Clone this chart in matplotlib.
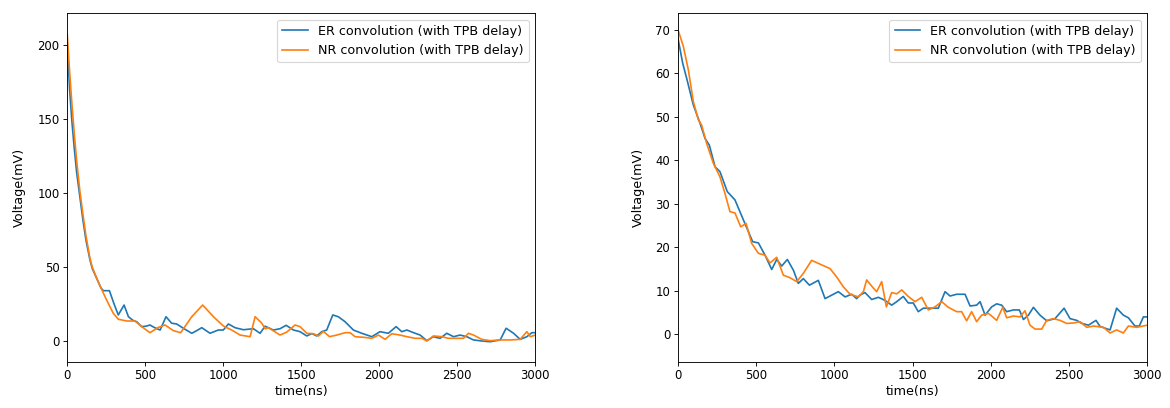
import numpy as np
import matplotlib
matplotlib.use('Agg')
import matplotlib.pyplot as plt

# Left panel - ER convolution (with TPB delay)
t_er_left = [0, 15, 30, 45, 60, 80, 100, 120, 145, 160, 190, 215, 231, 270, 300, 327, 364, 392, 420,
             445, 477, 505, 530, 560, 595, 633, 669, 701, 744, 798, 830, 862, 915, 968, 1000, 1033,
             1075, 1129, 1193, 1236, 1268, 1321, 1364, 1403, 1450, 1492, 1535, 1568, 1599, 1632,
             1663, 1702, 1737, 1781, 1834, 1888, 1952, 2005, 2058, 2108, 2144, 2177, 2220, 2262,
             2305, 2347, 2390, 2433, 2476, 2518, 2561, 2604, 2657, 2711, 2775, 2813, 2861, 2903,
             2946, 2978, 3000]
v_er_left = [200, 170, 148, 130, 114, 98, 82, 68, 55, 49, 42, 36, 34, 34, 25, 17.6, 24.3, 16.4, 14,
             13, 9.7, 10, 10.8, 9, 7.4, 16.4, 12, 11.5, 8.6, 5.2, 7, 9, 5.2, 7.4, 7.4, 11.5,
             9, 7.6, 8.3, 5.2, 10, 7.4, 8.3, 10.6, 7.4, 6.3, 3.4, 5, 3.4, 6.3,
             7.4, 17.6, 16.4, 13, 7.4, 5.2, 2.9, 6.3, 5.2, 9.7, 6.3, 7.4, 5.6, 4,
             0.2, 2.9, 1.8, 5.2, 2.9, 4, 2.9, 0.7, 0, -0.5, 0.7, 8.6, 5.2, 1.1,
             2.9, 5.6, 5.6]

# Left panel - NR convolution (with TPB delay)
t_nr_left = [0, 15, 30, 45, 60, 80, 100, 120, 145, 160, 190, 220, 252, 295, 327, 381, 434, 477, 530,
             584, 627, 680, 727, 798, 868, 937, 1001, 1054, 1108, 1172, 1204, 1247, 1268, 1289,
             1364, 1407, 1460, 1492, 1535, 1578, 1610, 1642, 1681, 1727, 1781, 1813, 1845, 1899,
             1952, 1995, 2037, 2080, 2133, 2177, 2230, 2273, 2305, 2347, 2401, 2444, 2487, 2540,
             2572, 2604, 2657, 2711, 2775, 2839, 2903, 2946, 2968, 3000]
v_nr_left = [207, 182, 160, 140, 122, 102, 86, 71, 56, 50, 42, 35, 27.7, 18.7, 14.7, 13.5, 13.5, 9.7, 5.6,
             9.2, 10.8, 7, 5.6, 16.4, 24.3, 16.4, 10.1, 7.4, 4, 2.9, 16.4, 12, 8.3, 9,
             4, 6, 10.8, 9.7, 5.2, 4.9, 3.4, 6.5, 2.9, 4, 5.6, 5.6, 2.9, 2.5,
             1.8, 4, 1.1, 4.9, 4, 2.9, 1.8, 1.8, 0, 3.4, 2.9, 1.8, 1.8, 1.8,
             5.2, 4, 1.1, 0.2, 0.7, 0.7, 1.1, 6.3, 2.9, 4]

# Right panel - ER convolution (with TPB delay)
t_er_right = [0, 30, 55, 98, 141, 173, 200, 237, 268, 315, 364, 418, 477, 514, 556, 599, 631, 663,
              699, 738, 769, 801, 840, 897, 940, 993, 1025, 1068, 1110, 1142, 1163, 1195, 1238,
              1281, 1323, 1366, 1398, 1440, 1472, 1504, 1536, 1568, 1611, 1664, 1707, 1739, 1781,
              1835, 1867, 1909, 1931, 1963, 2005, 2037, 2069, 2101, 2144, 2182, 2208, 2240, 2272,
              2314, 2357, 2410, 2468, 2506, 2549, 2581, 2624, 2672, 2698, 2762, 2804, 2847, 2879,
              2921, 2949, 2975, 3000]
v_er_right = [68, 62.3, 58.9, 52.7, 48.5, 45, 43.5, 38.5, 37.4, 32.8, 30.9, 26.3, 21.3, 21, 18.2, 14.9,
              17.2, 15.7, 17.2, 14.7, 11.7, 12.8, 11.3, 12.4, 8.2, 9.2, 9.8, 8.6, 9.2, 8.2, 9.0, 9.6,
              8, 8.5, 7.8, 6.7, 7.5, 8.7, 7.2, 7.2, 5.2, 6, 6, 6, 9.8, 8.8, 9.2,
              9.2, 6.5, 6.7, 7.5, 4.4, 6.3, 7, 6.7, 5.2, 5.6, 5.6, 3.4, 4.4, 6.2,
              4.4, 3.1, 3.6, 6, 3.6, 3.2, 2.5, 2.1, 3.2, 1.8, 1.0, 6, 4.4, 3.8,
              1.9, 1.9, 4, 4]

# Right panel - NR convolution (with TPB delay)
t_nr_right = [0, 34, 66, 98, 130, 151, 183, 226, 268, 300, 332, 364, 401, 435, 471, 514, 556, 588,
              631, 673, 716, 759, 801, 854, 897, 972, 1014, 1057, 1100, 1153, 1185, 1206, 1249,
              1270, 1302, 1332, 1366, 1398, 1430, 1472, 1515, 1558, 1600, 1643, 1686, 1728, 1781,
              1813, 1845, 1877, 1909, 1941, 1984, 2005, 2037, 2076, 2101, 2144, 2186, 2218, 2250,
              2282, 2325, 2357, 2400, 2442, 2485, 2528, 2570, 2613, 2656, 2720, 2762, 2804, 2847,
              2879, 2932, 3000]
v_nr_right = [70, 66.2, 60.8, 53.5, 49.3, 48.1, 43.9, 39.3, 36.2, 32.4, 28.2, 27.9, 24.7, 25.5, 20.9,
              18.6, 18.2, 16.4, 17.7, 13.6, 13, 12.1, 14, 17, 16.3, 15.1, 13.2, 10.9, 9.2, 8.6, 9.8,
              12.5, 10.6, 9.8, 12.1, 6.3, 9.6, 9.3, 10.2, 8.7, 7.5, 8.5, 5.6, 6.3, 7.5, 6.2, 5.2,
              5.2, 3.1, 5.2, 2.9, 4.4, 4.8, 4.2, 3.2, 6.2, 3.8, 4.2, 4, 5.4, 2.1,
              1.2, 1.2, 3.2, 3.6, 3.2, 2.5, 2.6, 2.9, 1.6, 1.9, 1.6, 0.3, 1.0, 0.3,
              1.9, 1.6, 2.1]

er_label = 'ER convolution (with TPB delay)'
nr_label = 'NR convolution (with TPB delay)'

plt.rcParams['xtick.labelsize'] = 10.5
plt.rcParams['ytick.labelsize'] = 10.5
plt.rcParams['axes.labelsize'] = 11.5
plt.rcParams['legend.fontsize'] = 11.5

fig = plt.figure(figsize=(14.625, 5.1), dpi=80)
ax1 = fig.add_axes([0.0575, 0.1135, 0.400, 0.8539])
ax2 = fig.add_axes([0.5795, 0.1135, 0.4011, 0.8539])

ax1.plot(t_er_left, v_er_left, label=er_label)
ax1.plot(t_nr_left, v_nr_left, label=nr_label)
ax1.set_xlim(0, 3000)
ax1.set_ylim(-14, 221.5)
ax1.set_xlabel('time(ns)', labelpad=2)
ax1.set_ylabel('Voltage(mV)', labelpad=10)
ax1.legend(loc='upper right')

ax2.plot(t_er_right, v_er_right, label=er_label)
ax2.plot(t_nr_right, v_nr_right, label=nr_label)
ax2.set_xlim(0, 3000)
ax2.set_ylim(-6.3, 73.8)
ax2.set_xlabel('time(ns)', labelpad=2)
ax2.set_ylabel('Voltage(mV)', labelpad=9)
ax2.legend(loc='upper right')

plt.savefig('out.png', dpi=80)
